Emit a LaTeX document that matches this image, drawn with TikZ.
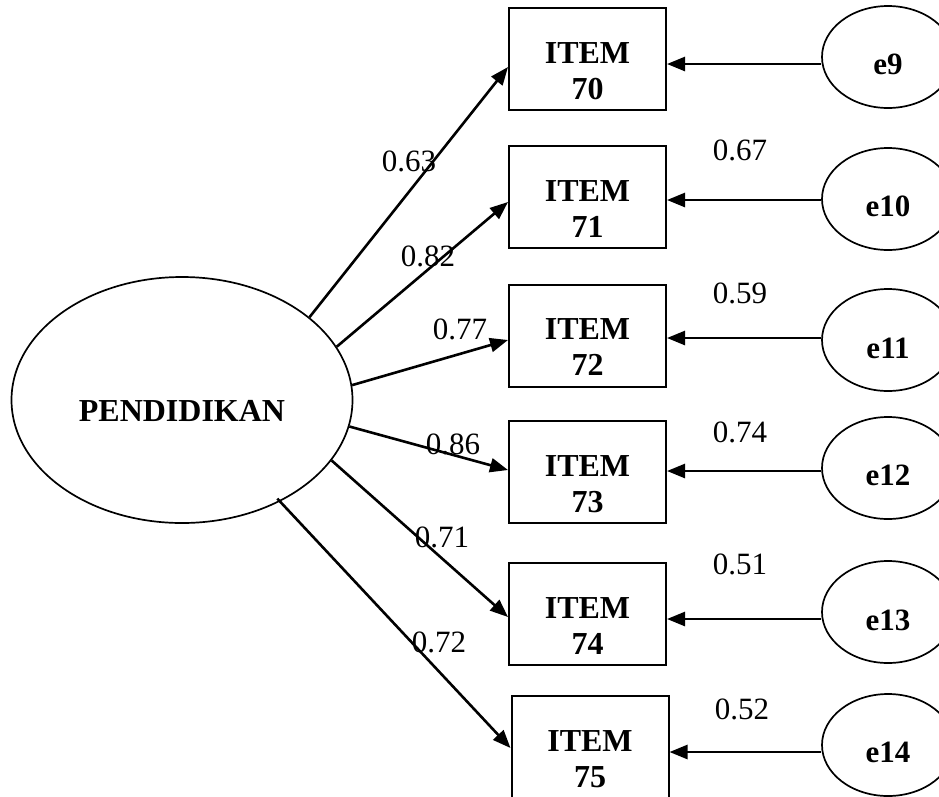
\documentclass[tikz,border=0pt]{standalone}
\usepackage{fontspec}
\setmainfont{Liberation Serif}
\usetikzlibrary{arrows.meta,shapes.geometric}
\begin{document}
\begin{tikzpicture}[x=1pt,y=-1pt,
  itembox/.style={draw, line width=2pt, minimum width=157pt, minimum height=102pt, inner sep=0pt},
  itemlabel/.style={align=center, font=\fontsize{32}{36}\selectfont\bfseries, inner sep=0pt},
  latent/.style={draw, ellipse, line width=1.7pt, minimum width=341pt, minimum height=246pt, inner sep=0pt},
  errnode/.style={draw, ellipse, line width=1.7pt, minimum width=132pt, minimum height=102pt, inner sep=0pt},
  errlabel/.style={font=\fontsize{31}{36}\selectfont\bfseries, inner sep=0pt},
  coef/.style={font=\fontsize{31}{36}\selectfont, inner sep=0pt},
  loading/.style={-{Triangle[length=18pt,width=14pt]}, line width=2.6pt}
]
\useasboundingbox (0,0) rectangle (939,796);
\clip (0,0) rectangle (939,796);

% latent construct
\node[latent, label={[name=pendtxt, itemlabel, yshift=-11pt]center:PENDIDIKAN}] (pend) at (182,400) {};

% indicator items
\node[itembox, label={[name=t70, itemlabel, yshift=-12pt]center:{ITEM\\70}}] (i70) at (587.5,59) {};
\node[itembox, label={[name=t71, itemlabel, yshift=-12pt]center:{ITEM\\71}}] (i71) at (587.5,197) {};
\node[itembox, label={[name=t72, itemlabel, yshift=-12pt]center:{ITEM\\72}}] (i72) at (587.5,335.5) {};
\node[itembox, label={[name=t73, itemlabel, yshift=-12pt]center:{ITEM\\73}}] (i73) at (587.5,472) {};
\node[itembox, label={[name=t74, itemlabel, yshift=-12pt]center:{ITEM\\74}}] (i74) at (587.5,614) {};
\node[itembox, label={[name=t75, itemlabel, yshift=-12pt]center:{ITEM\\75}}] (i75) at (590,747) {};

% error terms
\node[errnode, label={[name=te9, errlabel, yshift=-7pt]center:e9}] (e9) at (888,57) {};
\node[errnode, label={[name=te10, errlabel, yshift=-7pt]center:e10}] (e10) at (888,199) {};
\node[errnode, label={[name=te11, errlabel, yshift=-8pt]center:e11}] (e11) at (888,340) {};
\node[errnode, label={[name=te12, errlabel, yshift=-7pt]center:e12}] (e12) at (888,468) {};
\node[errnode, label={[name=te13, errlabel, yshift=-8pt]center:e13}] (e13) at (888,612) {};
\node[errnode, label={[name=te14, errlabel, yshift=-7pt]center:e14}] (e14) at (888,745) {};

% loadings
\draw[loading] (pend.33) -- ([yshift=-8pt]i70.west);
\draw[loading] (pend.19) -- ([yshift=-5pt]i71.west);
\draw[loading] (pend.5) -- ([yshift=-4.5pt]i72.west);
\draw[loading] (pend.-9) -- ([yshift=2pt]i73.west);
\draw[loading] (pend.-22) -- ([yshift=-3pt]i74.west);
\draw[loading, shorten <=-4pt] (pend.-46) -- ([yshift=-1pt]i75.west);

% error paths
\draw[loading] ([yshift=-7pt]e9.west) -- ([yshift=-7pt]e9.west -| i70.east);
\draw[loading] ([yshift=-1pt]e10.west) -- ([yshift=-1pt]e10.west -| i71.east);
\draw[loading] ([yshift=2pt]e11.west) -- ([yshift=2pt]e11.west -| i72.east);
\draw[loading] ([yshift=-3pt]e12.west) -- ([yshift=-3pt]e12.west -| i73.east);
\draw[loading] ([yshift=-7pt]e13.west) -- ([yshift=-7pt]e13.west -| i74.east);
\draw[loading] ([yshift=-7pt]e14.west) -- ([yshift=-7pt]e14.west -| i75.east);

% coefficients
\node[coef] (c70) at (409,161) {0.63};
\node[coef] (c71) at (428,256) {0.82};
\node[coef] (c72) at (460,329) {0.77};
\node[coef] (c73) at (453,444) {0.86};
\node[coef] (c74) at (442,537) {0.71};
\node[coef] (c75) at (439,642) {0.72};

\node[coef] (r71) at (740,150) {0.67};
\node[coef] (r72) at (740,293) {0.59};
\node[coef] (r73) at (740,432) {0.74};
\node[coef] (r74) at (740,564) {0.51};
\node[coef] (r75) at (742,709) {0.52};
\end{tikzpicture}
\end{document}
